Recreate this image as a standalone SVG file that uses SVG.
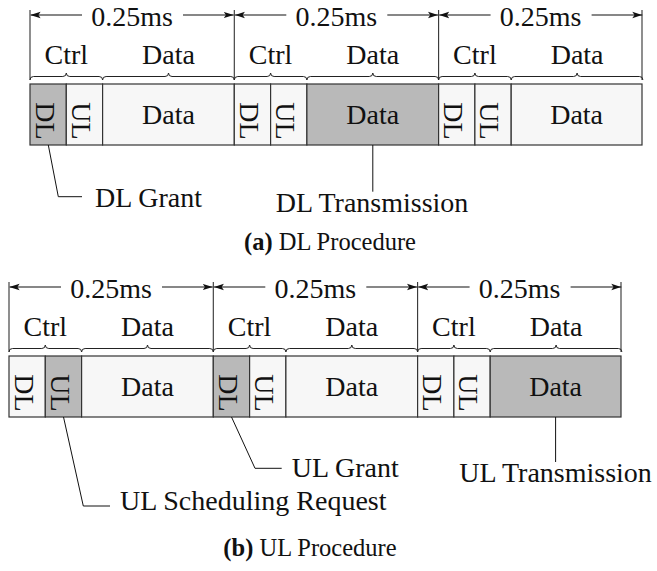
<svg xmlns="http://www.w3.org/2000/svg" width="657" height="571" viewBox="0 0 657 571">
  <style>
    .t { font-family: "Liberation Serif", "Times New Roman", serif; font-size: 28px; fill: #111; }
    .cap { font-family: "Liberation Serif", "Times New Roman", serif; font-size: 24.5px; fill: #111; text-anchor: middle; }
    .c { text-anchor: middle; }
    .cell { stroke: #333; stroke-width: 1.2; }
    .g { fill: #b9b9b9; }
    .w { fill: #f7f7f7; }
    .br { fill: none; stroke: #222; stroke-width: 1; }
    .bd { fill: none; stroke: #333; stroke-width: 1.1; }
    .ar { fill: none; stroke: #111; stroke-width: 1.1; marker-end: url(#head); }
    .ld { fill: none; stroke: #111; stroke-width: 1; }
  </style>
  <defs>
    <marker id="head" markerUnits="userSpaceOnUse" markerWidth="10" markerHeight="8" refX="10" refY="4" orient="auto">
      <path d="M0,0.8 L10,4 L0,7.2 L2.2,4 Z" fill="#111"/>
    </marker>
    <!-- one 0.25ms frame header: duration arrows, Ctrl/Data labels and braces -->
    <g id="frameHead">
      <path class="ar" d="M52,15 H0.6"/>
      <path class="ar" d="M153,15 H203.7"/>
      <text class="t c" x="102" y="26">0.25ms</text>
      <text class="t c" x="36.3" y="64">Ctrl</text>
      <text class="t c" x="138.5" y="64">Data</text>
      <path class="br" d="M0,80 Q0,76.5 3.5,76.5 L32.8,76.5 Q36.3,76.5 36.3,73 Q36.3,76.5 39.8,76.5 L69.1,76.5 Q72.6,76.5 72.6,80"/>
      <path class="br" d="M72.6,80 Q72.6,76.5 76.1,76.5 L135,76.5 Q138.5,76.5 138.5,73 Q138.5,76.5 142,76.5 L200.8,76.5 Q204.3,76.5 204.3,80"/>
    </g>
  </defs>

  <!-- (a) downlink procedure -->
  <g id="panelA">
    <g id="a-headers">
      <path class="bd" d="M30,10 V80 M234.3,10 V80 M438.6,10 V80 M642,10 V80"/>
      <use href="#frameHead" x="30" y="0"/>
      <use href="#frameHead" x="234.3" y="0"/>
      <use href="#frameHead" x="438.6" y="0"/>
    </g>
    <g id="a-f1-dl"><rect class="cell g" x="30" y="84" width="36.3" height="61"/><text class="t c" transform="translate(35.5,121) rotate(90)">DL</text></g>
    <g id="a-f1-ul"><rect class="cell w" x="66.3" y="84" width="36.3" height="61"/><text class="t c" transform="translate(71.8,121) rotate(90)">UL</text></g>
    <g id="a-f1-data"><rect class="cell w" x="102.6" y="84" width="131.7" height="61"/><text class="t c" x="168.5" y="124">Data</text></g>
    <g id="a-f2-dl"><rect class="cell w" x="234.3" y="84" width="36.3" height="61"/><text class="t c" transform="translate(239.8,121) rotate(90)">DL</text></g>
    <g id="a-f2-ul"><rect class="cell w" x="270.6" y="84" width="36.3" height="61"/><text class="t c" transform="translate(276.1,121) rotate(90)">UL</text></g>
    <g id="a-f2-data"><rect class="cell g" x="306.9" y="84" width="131.7" height="61"/><text class="t c" x="372.8" y="124">Data</text></g>
    <g id="a-f3-dl"><rect class="cell w" x="438.6" y="84" width="36.3" height="61"/><text class="t c" transform="translate(444.1,121) rotate(90)">DL</text></g>
    <g id="a-f3-ul"><rect class="cell w" x="474.9" y="84" width="36.3" height="61"/><text class="t c" transform="translate(480.4,121) rotate(90)">UL</text></g>
    <g id="a-f3-data"><rect class="cell w" x="511.2" y="84" width="130.8" height="61"/><text class="t c" x="576.6" y="124">Data</text></g>
    <g id="a-dl-grant"><text class="t" x="95" y="206.5">DL Grant</text></g>
    <g id="a-dl-tx"><text class="t c" x="372" y="211.7">DL Transmission</text></g>
    <g id="a-connectors">
      <path class="ld" d="M48.3,145 L58.3,196.7 H82"/>
      <path class="ld" d="M372.8,145 V191.7"/>
    </g>
  </g>
  <text class="cap" x="330" y="250"><tspan font-weight="bold">(a)</tspan> DL Procedure</text>

  <!-- (b) uplink procedure: same frame layout, shifted -->
  <g id="panelB" transform="translate(-21,272)">
    <g id="b-headers">
      <path class="bd" d="M30,10 V80 M234.3,10 V80 M438.6,10 V80 M642,10 V80"/>
      <use href="#frameHead" x="30" y="0"/>
      <use href="#frameHead" x="234.3" y="0"/>
      <use href="#frameHead" x="438.6" y="0"/>
    </g>
    <g id="b-f1-dl"><rect class="cell w" x="30" y="84" width="36.3" height="61"/><text class="t c" transform="translate(35.5,121) rotate(90)">DL</text></g>
    <g id="b-f1-ul"><rect class="cell g" x="66.3" y="84" width="36.3" height="61"/><text class="t c" transform="translate(71.8,121) rotate(90)">UL</text></g>
    <g id="b-f1-data"><rect class="cell w" x="102.6" y="84" width="131.7" height="61"/><text class="t c" x="168.5" y="124">Data</text></g>
    <g id="b-f2-dl"><rect class="cell g" x="234.3" y="84" width="36.3" height="61"/><text class="t c" transform="translate(239.8,121) rotate(90)">DL</text></g>
    <g id="b-f2-ul"><rect class="cell w" x="270.6" y="84" width="36.3" height="61"/><text class="t c" transform="translate(276.1,121) rotate(90)">UL</text></g>
    <g id="b-f2-data"><rect class="cell w" x="306.9" y="84" width="131.7" height="61"/><text class="t c" x="372.8" y="124">Data</text></g>
    <g id="b-f3-dl"><rect class="cell w" x="438.6" y="84" width="36.3" height="61"/><text class="t c" transform="translate(444.1,121) rotate(90)">DL</text></g>
    <g id="b-f3-ul"><rect class="cell w" x="474.9" y="84" width="36.3" height="61"/><text class="t c" transform="translate(480.4,121) rotate(90)">UL</text></g>
    <g id="b-f3-data"><rect class="cell g" x="511.2" y="84" width="130.8" height="61"/><text class="t c" x="576.6" y="124">Data</text></g>
    <g id="b-ul-sr"><text class="t" x="141" y="238">UL Scheduling Request</text></g>
    <g id="b-ul-grant"><text class="t" x="312.7" y="205.3">UL Grant</text></g>
    <g id="b-ul-tx"><text class="t c" x="576.5" y="209.5">UL Transmission</text></g>
    <g id="b-connectors">
      <path class="ld" d="M84.5,145 L104.3,234 H131"/>
      <path class="ld" d="M252.5,145 L276,196.3 H302.7"/>
      <path class="ld" d="M576.6,145 V190"/>
    </g>
  </g>
  <text class="cap" x="310" y="556"><tspan font-weight="bold">(b)</tspan> UL Procedure</text>
</svg>
